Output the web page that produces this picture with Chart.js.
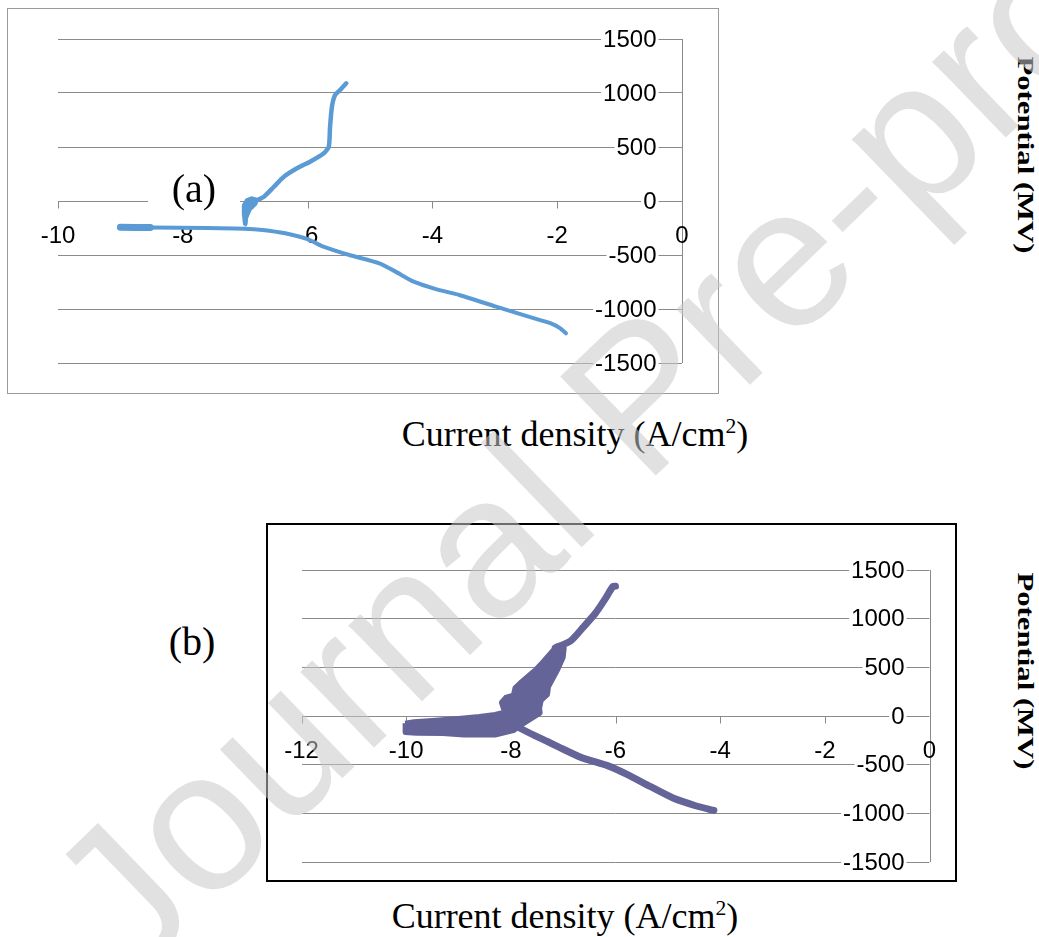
<!DOCTYPE html>
<html>
<head>
<meta charset="utf-8">
<script src="https://cdn.jsdelivr.net/npm/chart.js@4.4.0/dist/chart.umd.min.js"></script>
<style>
	body { margin: 0; width: 1039px; height: 937px; background: #fff; position: relative; overflow: hidden; }
	.box { position: absolute; box-sizing: border-box; }
	#boxA { left: 7px; top: 8px; width: 712px; height: 386px; border: 1px solid #9a9a9a; }
	#boxB { left: 266px; top: 523px; width: 691px; height: 359px; border: 2px solid #000; }
	canvas { position: absolute; }
	#chartA { left: 8px; top: 9px; }
	#chartB { left: 267px; top: 524px; }
	.serif { position: absolute; font-family: "Liberation Serif", "Times New Roman", serif; color: #000; white-space: nowrap; transform: translate(-50%, -50%); }
	.title { font-size: 36px; }
	.title sup { font-size: 0.6em; line-height: 0; }
	.panel { font-size: 40px; }
	#labelA { left: 194px; top: 189px; width: 92px; height: 44px; line-height: 44px; text-align: center; background: #fff; }
	#labelB { left: 192px; top: 641px; }
	#titleA { left: 575px; top: 434px; }
	#titleB { left: 565px; top: 916px; }
	.potential { font-size: 24px; font-weight: bold; transform: translate(-50%, -50%) rotate(90deg) scale(1.28, 1); }
	#potA { left: 1025px; top: 155px; }
	#potB { left: 1025px; top: 671px; }
	#wm { position: absolute; left: 640px; top: 395px; transform: translate(-50%, -50%) rotate(-44deg);
		font-family: "Liberation Sans", Arial, sans-serif; font-size: 200px; white-space: nowrap;
		color: rgba(200, 200, 200, 0.54); pointer-events: none; z-index: 10; }
</style>
</head>
<body>
<div class="box" id="boxA"></div>
<div class="box" id="boxB"></div>
<canvas id="chartA" width="710" height="384"></canvas>
<canvas id="chartB" width="689" height="357"></canvas>
<div class="serif panel" id="labelA">(a)</div>
<div class="serif panel" id="labelB">(b)</div>
<div class="serif title" id="titleA">Current density (A/cm<sup>2</sup>)</div>
<div class="serif title" id="titleB">Current density (A/cm<sup>2</sup>)</div>
<div class="serif potential" id="potA">Potential (MV)</div>
<div class="serif potential" id="potB">Potential (MV)</div>
<div id="wm">Journal Pre-proof</div>
<script>
// tick labels
var xTicksA = [-10, -8, -6, -4, -2, 0];
var xTicksB = [-12, -10, -8, -6, -4, -2, 0];
var yTicks = [-1500, -1000, -500, 0, 500, 1000, 1500];

// (a) log current density / potential in mV
var aCathodicLogI = [-9.00, -8.52, -7.60, -7.02, -6.72, -6.36, -5.99, -5.77, -5.33, -4.85, -4.59, -4.30, -3.93, -3.57, -2.98, -2.46, -2.10, -1.95, -1.86];
var aCathodicE = [-244, -246, -250, -256, -268, -299, -355, -417, -500, -577, -654, -747, -818, -870, -978, -1071, -1133, -1179, -1225];
var aTailLogI = [-9.00, -8.52];
var aTailE = [-244, -245];
var aAnodicLogI = [-7.00, -6.97, -6.86, -6.70, -6.54, -6.38, -6.17, -5.96, -5.74, -5.66, -5.64, -5.61, -5.56, -5.48, -5.38];
var aAnodicE = [-207, -53, -6, 40, 132, 225, 303, 364, 442, 503, 688, 873, 981, 1028, 1090];
var aBlobLogI = [-7.01, -7.03, -7.03, -6.98, -6.90, -6.80, -6.83, -6.92, -6.98, -6.99, -7.01];
var aBlobE = [-222, -120, -40, 10, 30, 15, -30, -80, -160, -222, -222];

// (b)
var bCathodicLogI = [-7.90, -7.55, -7.30, -7.08, -6.66, -6.13, -5.78, -5.34, -4.90, -4.47, -4.12];
var bCathodicE = [-105, -200, -262, -320, -425, -515, -600, -723, -843, -922, -970];
var bAnodicLogI = [-7.15, -6.86, -6.62, -6.38, -6.20, -6.10, -6.05, -6.00];
var bAnodicE = [700, 770, 910, 1058, 1200, 1290, 1330, 1334];
var bBandLogI = [-10.02, -9.85, -9.50, -9.00, -8.60, -8.30, -8.12, -8.15, -8.18, -8.10, -7.95, -7.92, -7.80, -7.65, -7.52, -7.38, -7.25, -7.12,
	-6.98, -7.00, -7.10, -7.20, -7.28, -7.30, -7.42, -7.45, -7.44, -7.78, -7.95, -8.30, -8.90, -9.30, -9.80, -10.02, -10.02];
var bBandE = [-75, -60, -45, -25, -5, 15, 40, 90, 140, 190, 215, 290, 350, 420, 480, 560, 640, 720,
	700, 600, 480, 380, 300, 220, 160, 80, 30, -85, -150, -195, -195, -180, -178, -170, -75];

const gridColor = '#8a8a8a';
const blueA = '#5b9bd5';
const purpleB = '#646499';

function pts(xs, ys){
	return xs.map(function(x, i){ return {x: x, y: ys[i]}; });
}

const excelAxes = {
	id: 'excelAxes',
	beforeDatasetsDraw(chart, args, opts){
		const ctx = chart.ctx, xs = chart.scales.x, ys = chart.scales.y;
		const x0 = Math.round(xs.getPixelForValue(0)) + 0.5;
		const y0 = Math.round(ys.getPixelForValue(0)) + 0.5;
		ctx.save();
		ctx.strokeStyle = gridColor;
		ctx.lineWidth = 1;
		ctx.beginPath();
		ctx.moveTo(x0, ys.top);
		ctx.lineTo(x0, ys.bottom);
		opts.xTicks.forEach(function(v){
			const px = Math.round(xs.getPixelForValue(v)) + 0.5;
			ctx.moveTo(px, y0);
			ctx.lineTo(px, y0 + 7);
		});
		ctx.stroke();

		ctx.font = '24px "Liberation Sans", Arial, sans-serif';
		ctx.textBaseline = 'middle';
		ctx.textAlign = 'right';
		opts.yTicks.forEach(function(v){
			const py = ys.getPixelForValue(v), s = String(v), w = ctx.measureText(s).width;
			ctx.fillStyle = '#fff';
			ctx.fillRect(x0 - 26 - w - 2, py - 10, w + 4, 20);
			ctx.fillStyle = '#000';
			ctx.fillText(s, x0 - 26, py + 1);
		});
		ctx.textAlign = 'center';
		opts.xTicks.forEach(function(v){
			ctx.fillText(String(v), xs.getPixelForValue(v), y0 + 35);
		});
		ctx.restore();
	}
};

function lineSet(data, color, width){
	return { data: data, showLine: true, borderColor: color, backgroundColor: color, borderWidth: width,
		pointRadius: 0, tension: 0.2, fill: false, borderCapStyle: 'round', borderJoinStyle: 'round' };
}

function shapeSet(data, color, width){
	return { data: data, showLine: true, borderColor: color, backgroundColor: color, borderWidth: width,
		pointRadius: 0, tension: 0, fill: 'shape', borderJoinStyle: 'round' };
}

function makeOptions(xMin, pad, xTicks){
	return {
		responsive: false,
		animation: false,
		layout: { padding: pad },
		plugins: {
			legend: { display: false },
			tooltip: { enabled: false },
			excelAxes: { xTicks: xTicks, yTicks: yTicks }
		},
		scales: {
			x: { type: 'linear', min: xMin, max: 0, grid: { display: false }, border: { display: false }, ticks: { display: false },
				afterFit: function(scale){ scale.height = 0; } },
			y: { type: 'linear', min: -1500, max: 1500, ticks: { display: false, stepSize: 500 },
				grid: { color: gridColor, drawTicks: false }, border: { display: false },
				afterFit: function(scale){ scale.width = 0; } }
		}
	};
}

var chartA = new Chart(document.getElementById('chartA'), {
	type: 'scatter',
	data: {
		datasets: [
			lineSet(pts(aCathodicLogI, aCathodicE), blueA, 4),
			lineSet(pts(aTailLogI, aTailE), blueA, 7),
			lineSet(pts(aAnodicLogI, aAnodicE), blueA, 4.5),
			shapeSet(pts(aBlobLogI, aBlobE), blueA, 3)
		]
	},
	options: makeOptions(-10, { left: 50, right: 36, top: 30, bottom: 30 }, xTicksA),
	plugins: [excelAxes]
});

var chartB = new Chart(document.getElementById('chartB'), {
	type: 'scatter',
	data: {
		datasets: [
			shapeSet(pts(bBandLogI, bBandE), purpleB, 5),
			lineSet(pts(bCathodicLogI, bCathodicE), purpleB, 7),
			lineSet(pts(bAnodicLogI, bAnodicE), purpleB, 7)
		]
	},
	options: makeOptions(-12, { left: 34.5, right: 26.5, top: 46, bottom: 19 }, xTicksB),
	plugins: [excelAxes]
});
</script>
</body>
</html>
